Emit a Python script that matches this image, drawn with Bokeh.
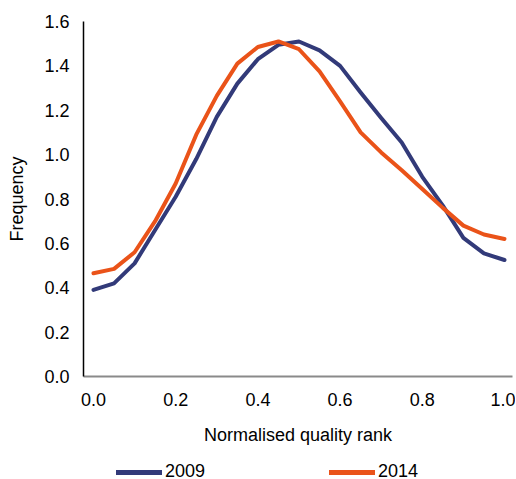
from bokeh.plotting import figure
from bokeh.layouts import column
from bokeh.models import Range1d, FixedTicker, NumeralTickFormatter, Legend, LegendItem
from bokeh.embed import file_html
from bokeh.resources import INLINE

rank = [0.0, 0.05, 0.10, 0.15, 0.20, 0.25, 0.30, 0.35, 0.40, 0.45, 0.50,
        0.55, 0.60, 0.65, 0.70, 0.75, 0.80, 0.85, 0.90, 0.95, 1.0]
freq_2009 = [0.39, 0.42, 0.51, 0.66, 0.81, 0.98, 1.17, 1.32, 1.43, 1.495, 1.51,
             1.47, 1.40, 1.28, 1.165, 1.055, 0.90, 0.77, 0.625, 0.555, 0.525]
freq_2014 = [0.465, 0.485, 0.56, 0.70, 0.87, 1.09, 1.265, 1.41, 1.485, 1.51, 1.475,
             1.375, 1.24, 1.10, 1.01, 0.93, 0.845, 0.76, 0.68, 0.64, 0.62]
series_names = ["2009", "2014"]
x_ticks = [0.0, 0.2, 0.4, 0.6, 0.8, 1.0]
y_ticks = [0.0, 0.2, 0.4, 0.6, 0.8, 1.0, 1.2, 1.4, 1.6]

NAVY = "#323a79"
ORANGE = "#ea5319"
FONT = "Liberation Sans"

p = figure(width=515, height=450, output_backend="svg", toolbar_location=None,
           x_range=Range1d(-0.0243, 1.0195), y_range=Range1d(0, 1.6),
           min_border_left=83, min_border_right=3, min_border_top=21,
           min_border_bottom=74)
p.outline_line_color = None
p.grid.visible = False
p.background_fill_color = "white"

p.line(rank, freq_2009, line_color=NAVY, line_width=4, line_join="round", line_cap="round")
p.line(rank, freq_2014, line_color=ORANGE, line_width=4, line_join="round", line_cap="round")

for ax in (p.xaxis[0], p.yaxis[0]):
    ax.major_tick_in = 0
    ax.major_tick_out = 0
    ax.minor_tick_in = 0
    ax.minor_tick_out = 0
    ax.major_label_text_font = FONT
    ax.major_label_text_font_size = "18px"
    ax.major_label_text_color = "black"
    ax.axis_label_text_font = FONT
    ax.axis_label_text_font_size = "18px"
    ax.axis_label_text_font_style = "normal"
    ax.axis_label_text_color = "black"
    ax.formatter = NumeralTickFormatter(format="0.0")

p.xaxis[0].ticker = FixedTicker(ticks=x_ticks)
p.yaxis[0].ticker = FixedTicker(ticks=y_ticks)
p.xaxis[0].axis_line_color = "#8a8a8a"
p.xaxis[0].axis_line_width = 2
p.yaxis[0].axis_line_color = "black"
p.yaxis[0].axis_line_width = 1.5
p.xaxis[0].axis_label = "Normalised quality rank"
p.yaxis[0].axis_label = "Frequency"
p.xaxis[0].major_label_standoff = 16
p.xaxis[0].axis_label_standoff = 16
p.yaxis[0].major_label_standoff = 14
p.yaxis[0].axis_label_standoff = 14

# legend strip below the chart; its renderers carry the same series but sit
# outside this strip's visible y-range, so only the legend entries show
lg = figure(width=515, height=28, output_backend="svg", toolbar_location=None,
            x_axis_type=None, y_axis_type=None, min_border=0,
            x_range=Range1d(0, 1), y_range=Range1d(10, 11))
lg.outline_line_color = None
lg.grid.visible = False
d1 = lg.line(rank, freq_2009, line_color=NAVY, line_width=5, line_cap="round")
d2 = lg.line(rank, freq_2014, line_color=ORANGE, line_width=5, line_cap="round")
legend = Legend(items=[LegendItem(label=series_names[0], renderers=[d1]),
                       LegendItem(label=series_names[1], renderers=[d2])],
                orientation="horizontal", location=(33, -4),
                padding=0, margin=0, spacing=124,
                glyph_width=46, glyph_height=18, label_standoff=3,
                label_text_font=FONT, label_text_font_size="18px",
                label_text_color="black", border_line_color=None,
                background_fill_alpha=0)
lg.add_layout(legend, "center")

layout = column(p, lg, spacing=0)
open("out.html", "w").write(file_html(layout, INLINE))
